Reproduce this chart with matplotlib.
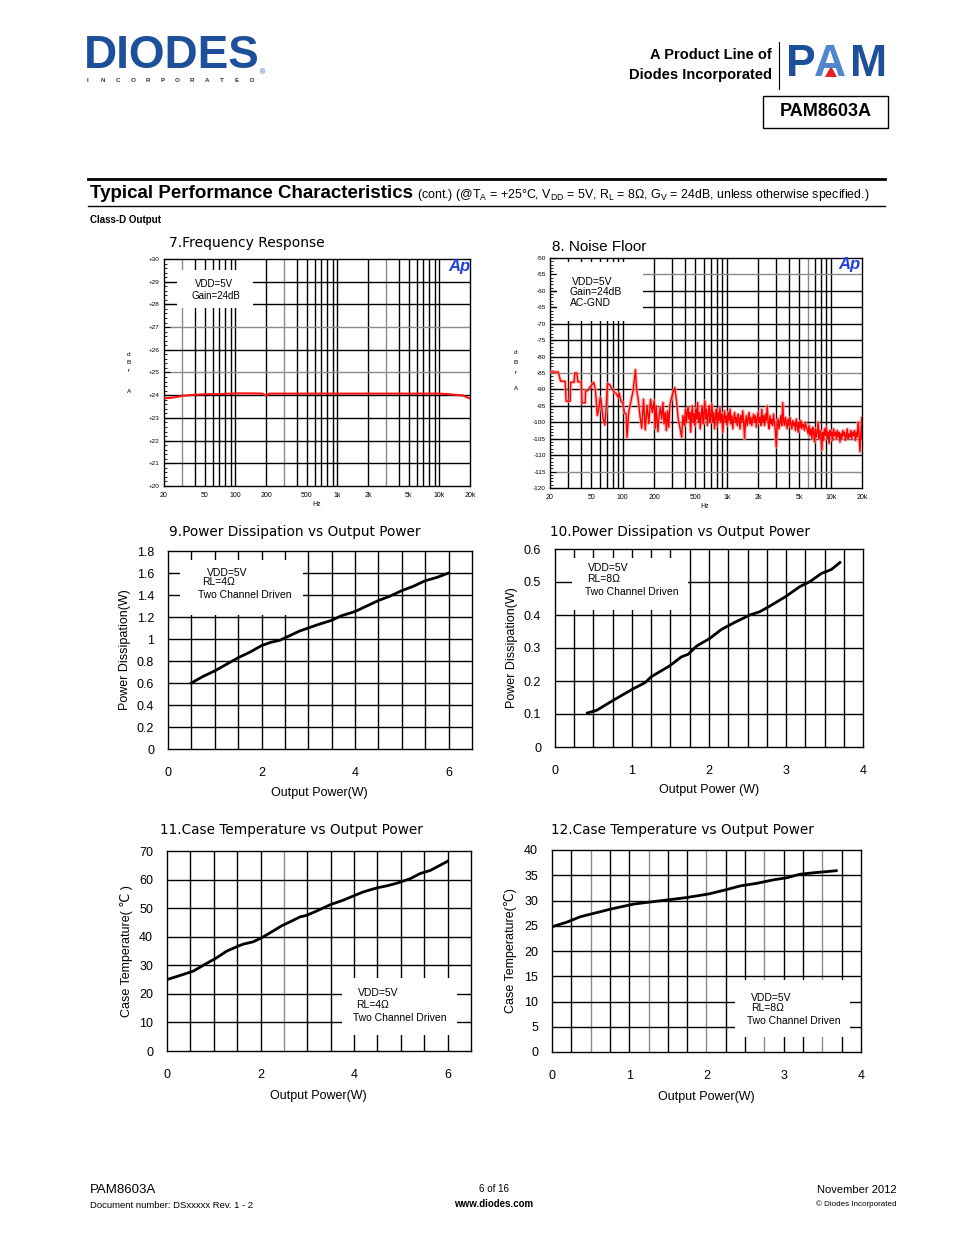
import matplotlib
matplotlib.use('Agg')
import matplotlib.pyplot as plt
import numpy as np
from matplotlib.patches import Rectangle, Polygon
from matplotlib.ticker import MultipleLocator, NullLocator

plt.rcParams['font.family'] = ['Liberation Sans', 'DejaVu Sans']

# ---------------- data ----------------
# 7. Frequency response
fr_hz = [20, 25, 30, 40, 50, 70, 90, 100, 150, 185, 200, 215, 300, 500, 1000,
         2000, 5000, 10000, 12000, 14000, 17000, 20000]
fr_db = [23.86, 23.9, 23.97, 24.02, 24.04, 24.05, 24.07, 24.08, 24.08, 24.07, 23.98, 24.07,
         24.07, 24.07, 24.07, 24.07, 24.07, 24.07, 24.05, 24.02, 23.99, 23.85]
fr_tick_hz = [20, 50, 100, 200, 500, 1000, 2000, 5000, 10000, 20000]
fr_tick_lbl = ['20', '50', '100', '200', '500', '1k', '2k', '5k', '10k', '20k']

# 8. Noise floor
noise_hz = [20.3, 24.0, 25.3, 28.0, 28.6, 31.3, 31.6, 34.1, 34.6, 36.3, 37.1, 40.0, 40.6, 43.6,
            44.0, 46.1, 47.9, 50.9, 52.6, 54.6, 57.0, 58.8, 61.0, 62.2, 64.8, 67.3, 68.9, 71.4,
            75.2, 79.6, 84.0, 87.2, 90.6, 92.6, 96.3, 99.9, 103.9, 107.8, 110.1, 114.3, 119.6,
            125.9, 132.6, 135.6, 140.9, 146.5, 152.3, 158.5, 164.8, 171.4, 178.2, 185.3, 192.7,
            200.4, 206, 210, 218, 224, 230, 237, 244, 250, 257, 263, 270, 277, 284, 292,
            305, 318, 330, 342, 355, 369, 380, 392, 402, 410, 418, 426, 434, 442, 450, 459,
            468, 477, 486, 495, 505, 515, 525, 535, 546, 557, 568, 580, 592, 604, 616, 628,
            640, 653, 666, 679, 692, 706, 720, 735, 750, 765, 780, 796, 812, 828, 845, 862,
            880, 898, 916, 935, 954, 973, 993, 1013, 1034, 1055, 1076, 1098, 1120, 1143,
            1166, 1190, 1214, 1239, 1264, 1290, 1316, 1343, 1370, 1398, 1426, 1455, 1484,
            1514, 1545, 1576, 1608, 1641, 1674, 1708, 1743, 1778, 1814, 1851, 1889, 1927,
            1966, 2006, 2047, 2088, 2131, 2174, 2218, 2263, 2309, 2356, 2404, 2453, 2503,
            2554, 2606, 2659, 2713, 2768, 2824, 2882, 2940, 3000, 3061, 3123, 3187, 3252,
            3318, 3385, 3454, 3524, 3596, 3669, 3744, 3820, 3898, 3977, 4058, 4140, 4225,
            4311, 4398, 4488, 4579, 4672, 4767, 4864, 4963, 5064, 5167, 5272, 5379, 5489,
            5600, 5714, 5830, 5949, 6070, 6193, 6319, 6448, 6579, 6713, 6849, 6989, 7131,
            7276, 7424, 7575, 7729, 7886, 8047, 8210, 8377, 8548, 8722, 8899, 9080, 9265,
            9453, 9646, 9842, 10042, 10246, 10455, 10668, 10885, 11106, 11332, 11562, 11798,
            12038, 12282, 12532, 12787, 13047, 13312, 13583, 13859, 14141, 14429, 14722,
            15022, 15327, 15639, 15957, 16281, 16612, 16950, 17295, 17647, 18006, 18372,
            18746, 19127, 19516, 19913, 20000]
noise_db = [-84.7, -84.7, -87.5, -87.5, -93.6, -93.6, -87.8, -87.8, -85.0, -85.0, -87.7, -87.7,
            -94.1, -94.1, -90.4, -90.4, -89.5, -88.5, -87.8, -90.0, -97.9, -96.0, -92.4, -93.9,
            -98.9, -100.8, -97.0, -88.2, -88.6, -90.0, -91.0, -91.4, -92.4, -91.1, -93.7,
            -93.9, -97.1, -97.4, -104.6, -96.9, -93.9, -90.4, -84.0, -89.5, -93.0, -97.9,
            -101.8, -93.0, -102.3, -94.9, -100.3, -93.0, -97.0, -93.5, -101.8, -95.0, -102.8,
            -98.0, -95.5, -99.0, -94.0, -100.5, -97.0, -102.5, -96.5, -101.5, -95.0, -93.0,
            -91.0, -89.4, -94.0, -99.0, -101.5, -104.6, -98.0, -101.0, -96.0, -100.0, -97.0,
            -95.5, -99.0, -97.0, -103.0, -98.0, -95.0, -100.0, -97.5, -101.0, -96.0, -99.0,
            -94.0, -100.0, -97.0, -102.0, -98.0, -95.0, -100.5, -97.0, -93.5, -99.0, -96.0,
            -101.0, -97.5, -95.0, -100.0, -98.0, -94.5, -100.0, -97.0, -102.0, -98.5, -96.0,
            -101.0, -97.0, -99.5, -95.5, -100.0, -97.5, -103.0, -99.0, -96.5, -100.0, -98.0,
            -101.0, -97.0, -99.5, -96.0, -100.5, -98.0, -102.0, -99.0, -97.0, -100.0, -98.5,
            -101.0, -97.5, -99.0, -102.0, -98.0, -100.0, -96.5, -99.5, -105.0, -100.0, -98.0,
            -101.0, -99.0, -97.0, -100.5, -98.5, -101.0, -99.0, -97.5, -100.0, -98.0, -101.5,
            -99.0, -97.0, -100.0, -98.5, -101.0, -96.0, -100.0, -98.0, -101.0, -97.5, -99.5,
            -95.0, -100.0, -102.0, -98.0, -100.5, -99.0, -101.0, -97.5, -100.0, -103.0,
            -107.5, -101.0, -99.0, -102.0, -100.0, -98.0, -101.0, -94.0, -99.5, -101.0,
            -98.5, -100.0, -102.0, -99.0, -101.0, -98.5, -100.5, -102.0, -99.5, -101.0,
            -100.0, -102.5, -99.0, -101.0, -103.0, -100.0, -101.5, -99.5, -102.0, -100.5,
            -101.0, -102.5, -100.0, -101.5, -102.0, -103.5, -101.0, -104.0, -102.0, -105.0,
            -101.5, -103.0, -106.0, -102.0, -104.5, -103.0, -100.0, -105.0, -102.5, -104.0,
            -108.5, -103.0, -105.5, -102.0, -104.0, -101.5, -105.0, -103.0, -106.5, -102.5,
            -104.0, -103.0, -105.5, -102.0, -104.0, -103.0, -105.0, -102.5, -104.5, -103.0,
            -106.0, -103.5, -105.0, -102.5, -104.0, -103.0, -105.5, -104.0, -102.0, -105.0,
            -103.5, -104.5, -102.5, -105.0, -103.0, -104.0, -102.5, -105.5, -103.0, -104.5,
            -100.0, -104.0, -109.0, -103.0, -98.5, -105.0]

# 9. Power dissipation, RL=4 ohm
pd4_w = [0.5, 0.75, 1.0, 1.25, 1.5, 1.75, 2.0, 2.2, 2.4, 2.6, 2.8, 3.0, 3.2, 3.5, 3.7,
         4.0, 4.25, 4.5, 4.75, 5.0, 5.25, 5.5, 5.75, 6.0]
pd4_pd = [0.60, 0.66, 0.71, 0.77, 0.83, 0.88, 0.94, 0.97, 0.99, 1.03, 1.07, 1.10, 1.13,
          1.17, 1.21, 1.25, 1.30, 1.35, 1.39, 1.44, 1.48, 1.53, 1.56, 1.60]

# 10. Power dissipation, RL=8 ohm
pd8_w = [0.42, 0.54, 0.76, 1.02, 1.17, 1.25, 1.49, 1.64, 1.73, 1.84, 2.01, 2.16, 2.32,
         2.53, 2.66, 2.79, 2.99, 3.18, 3.31, 3.46, 3.59, 3.70]
pd8_pd = [0.103, 0.111, 0.142, 0.177, 0.195, 0.213, 0.246, 0.273, 0.281, 0.306, 0.329,
          0.356, 0.376, 0.400, 0.410, 0.427, 0.455, 0.486, 0.501, 0.526, 0.538, 0.559]

# 11. Case temperature, RL=4 ohm
ct4_w = [0.0, 0.31, 0.56, 0.84, 1.06, 1.27, 1.52, 1.63, 1.84, 2.02, 2.27, 2.45, 2.63, 2.84,
         2.99, 3.2, 3.49, 3.77, 3.99, 4.2, 4.49, 4.7, 4.91, 5.2, 5.41, 5.63, 6.0]
ct4_t = [25.0, 26.6, 27.95, 30.6, 32.6, 34.9, 36.7, 37.4, 38.2, 39.6, 42.0, 43.8, 45.2,
         46.9, 47.5, 49.0, 51.2, 52.8, 54.3, 55.7, 57.1, 57.8, 58.7, 60.3, 62.1, 63.2, 66.4]

# 12. Case temperature, RL=8 ohm
ct8_w = [0.0, 0.19, 0.37, 0.76, 1.06, 1.27, 1.49, 1.75, 2.03, 2.27, 2.44, 2.65, 2.87, 3.04,
         3.21, 3.39, 3.54, 3.68]
ct8_t = [24.8, 25.7, 26.8, 28.3, 29.3, 29.7, 30.1, 30.6, 31.3, 32.2, 32.9, 33.4, 34.1,
         34.5, 35.2, 35.5, 35.7, 35.9]

# ---------------- figure ----------------
W, H = 954, 1235
fig = plt.figure(figsize=(9.54, 12.35), dpi=100)
fig.patch.set_facecolor('white')

bg = fig.add_axes([0, 0, 1, 1])
bg.set_xlim(0, W)
bg.set_ylim(H, 0)
bg.axis('off')


def add_ax(l, t, r, b):
    return fig.add_axes([l / W, 1 - b / H, (r - l) / W, (b - t) / H])


def ftext(x, y, s, **kw):
    kw.setdefault('va', 'center')
    return fig.text(x / W, 1 - y / H, s, **kw)


BLUE = '#1d4f9b'
TITLE_FONT = ['DejaVu Sans']

# ---- header ----
ftext(84, 56, 'DIODES', fontsize=33, fontweight='bold', color=BLUE, ha='left')
ftext(260, 73, '®', fontsize=5, color=BLUE, ha='left')
for i, ch in enumerate('INCORPORATED'):
    ftext(88 + i * 14.9, 81, ch, fontsize=4.5, fontweight='bold', color='#333333', ha='center')

ftext(772, 55, 'A Product Line of', fontsize=10.5, fontweight='bold', ha='right')
ftext(772, 75, 'Diodes Incorporated', fontsize=10.5, fontweight='bold', ha='right')
bg.plot([779, 779], [42, 89], color='black', lw=0.8)
ftext(786, 64, 'P', fontsize=32, fontweight='bold', color=BLUE, ha='left')
ftext(814, 64, 'A', fontsize=32, fontweight='bold', color='#4f86cf', ha='left')
ftext(850, 64, 'M', fontsize=32, fontweight='bold', color=BLUE, ha='left')
bg.add_patch(Polygon([[825, 77], [837, 77], [831, 66]], closed=True, fc='#e4202a', ec='none'))
bg.add_patch(Rectangle((763, 96), 125, 32, fc='none', ec='black', lw=1.0))
ftext(826, 112, 'PAM8603A', fontsize=13, fontweight='bold', ha='center')

bg.plot([88, 885], [179, 179], color='black', lw=2.0)
ftext(90, 193, 'Typical Performance Characteristics', fontsize=13.5, fontweight='bold', ha='left')
ftext(417, 195, r'(cont.) (@T$_\mathregular{A}$ = +25°C, V$_\mathregular{DD}$ = 5V, R$_\mathregular{L}$ = 8Ω, '
      r'G$_\mathregular{V}$ = 24dB, unless otherwise specified.)', fontsize=8.9, ha='left')
bg.plot([88, 885], [206, 206], color='black', lw=1.0)
ftext(90, 220, 'Class-D Output', fontsize=7, fontweight='bold', ha='left')

# ---- footer ----
ftext(90, 1190, 'PAM8603A', fontsize=9.5, ha='left')
ftext(90, 1206, 'Document number: DSxxxxx Rev. 1 - 2', fontsize=6.8, ha='left')
ftext(494, 1189, '6 of 16', fontsize=7, ha='center')
ftext(494, 1204, 'www.diodes.com', fontsize=7, fontweight='bold', ha='center')
ftext(897, 1190, 'November 2012', fontsize=8, ha='right')
ftext(897, 1204, '© Diodes Incorporated', fontsize=5.8, ha='right')

# ---- AP log charts ----
log_grid = [30, 40, 50, 60, 70, 80, 90, 100, 200, 300, 400, 500, 600, 700, 800, 900,
            1000, 2000, 3000, 4000, 5000, 6000, 7000, 8000, 9000, 10000]


def ap_chart(box, ylim, ystep, ylabels, gray_x, gray_y):
    ax = add_ax(*box)
    ax.set_xscale('log')
    ax.set_xlim(20, 20000)
    ax.set_ylim(*ylim)
    for f in log_grid:
        ax.axvline(f, color='#8a8a8a' if f in gray_x else 'black', lw=1.0, zorder=1)
    for v in np.arange(ylim[0] + ystep, ylim[1], ystep):
        ax.axhline(v, color='#8a8a8a' if any(np.isclose(v, g) for g in gray_y) else 'black',
                   lw=1.0, zorder=1)
    ax.set_xticks(fr_tick_hz)
    ax.set_xticklabels(fr_tick_lbl, fontsize=5)
    ax.xaxis.set_minor_locator(NullLocator())
    ax.tick_params(axis='x', length=0, pad=4)
    yt = np.arange(ylim[0], ylim[1] + ystep / 2, ystep)
    ax.set_yticks(yt)
    ax.set_yticklabels(ylabels, fontsize=4.6)
    ax.tick_params(axis='y', which='major', direction='in', length=4, width=0.8, pad=3)
    ax.tick_params(axis='y', which='minor', direction='in', length=2.5, width=0.6)
    for s in ax.spines.values():
        s.set_linewidth(1.0)
    return ax


ax7 = ap_chart((164, 259, 470, 486), (20, 30), 1, ['+%d' % v for v in range(20, 31)],
               gray_x=[30, 300, 3000], gray_y=[25, 27])
ax7.yaxis.set_minor_locator(MultipleLocator(0.2))
ax7.plot(fr_hz, fr_db, color='#ff1010', lw=1.5, zorder=3)
ax7.add_patch(Rectangle((0.042, 0.784), 0.249, 0.168, transform=ax7.transAxes,
                        fc='white', ec='none', zorder=2))
ftext(214, 284, 'VDD=5V', fontsize=7, ha='center')
ftext(216, 296, 'Gain=24dB', fontsize=7, ha='center')
ftext(459, 267, 'Ap', fontsize=12, fontweight='bold', style='italic', color='#2040e0', ha='center')
ftext(169, 243, '7.Frequency Response', fontsize=10, ha='left', family=TITLE_FONT)
ftext(317, 505, 'Hz', fontsize=5, ha='center')
for yy, ch in zip([355, 363, 371, 391], ['d', 'B', 'r', 'A']):
    ftext(129, yy, ch, fontsize=4.6, ha='center')

ax8 = ap_chart((550, 258, 862, 488), (-120, -50), 5, ['%d' % v for v in range(-120, -45, 5)],
               gray_x=[6000], gray_y=[-55, -85, -115])
ax8.yaxis.set_minor_locator(MultipleLocator(1))
ax8.plot(noise_hz, noise_db, color='#ffa0a0', lw=2.6, alpha=0.7, zorder=3)
ax8.plot(noise_hz, noise_db, color='#ff0000', lw=1.0, zorder=3)
ax8.add_patch(Rectangle((0.022, 0.726), 0.276, 0.257, transform=ax8.transAxes,
                        fc='white', ec='none', zorder=2))
ftext(572, 282, 'VDD=5V', fontsize=7.5, ha='left')
ftext(570, 292, 'Gain=24dB', fontsize=7.5, ha='left')
ftext(570, 303, 'AC-GND', fontsize=7.5, ha='left')
ftext(849, 265, 'Ap', fontsize=12, fontweight='bold', style='italic', color='#2040e0', ha='center')
ftext(552, 247, '8. Noise Floor', fontsize=11, ha='left')
ftext(705, 507, 'Hz', fontsize=5, ha='center')
for yy, ch in zip([353, 363, 372, 388], ['d', 'B', 'r', 'A']):
    ftext(516, yy, ch, fontsize=4.6, ha='center')


# ---- linear charts ----
def lin_chart(box, xmax, xstep, ymax, ystep, xticks, yticks, ylbls, xd, yd, gray_x=()):
    ax = add_ax(*box)
    ax.set_xlim(0, xmax)
    ax.set_ylim(0, ymax)
    for v in np.arange(xstep, xmax, xstep):
        ax.axvline(v, color='#8a8a8a' if any(np.isclose(v, g) for g in gray_x) else 'black',
                   lw=1.0, zorder=1)
    for v in np.arange(ystep, ymax, ystep):
        ax.axhline(v, color='black', lw=1.0, zorder=1)
    ax.plot(xd, yd, color='black', lw=2.0, zorder=3, solid_joinstyle='round')
    ax.set_xticks(xticks)
    ax.set_xticklabels([('%g' % v) for v in xticks], fontsize=9)
    ax.set_yticks(yticks)
    ax.set_yticklabels(ylbls, fontsize=9)
    ax.tick_params(axis='x', length=0, pad=13)
    ax.tick_params(axis='y', length=0, pad=10)
    for s in ax.spines.values():
        s.set_linewidth(1.0)
    return ax


def legend_box(ax, x0, y0, x1, y1):
    ax.add_patch(Rectangle((x0, y0), x1 - x0, y1 - y0, transform=ax.transAxes,
                           fc='white', ec='none', zorder=2))


# 9
ax9 = lin_chart((168, 551, 472, 749), 6.5, 0.5, 1.8, 0.2, [0, 2, 4, 6],
                np.arange(0, 1.81, 0.2), ['0', '0.2', '0.4', '0.6', '0.8', '1', '1.2', '1.4', '1.6', '1.8'],
                pd4_w, pd4_pd)
legend_box(ax9, 0.04, 0.677, 0.444, 0.955)
ftext(227, 573, 'VDD=5V', fontsize=7.5, ha='center')
ftext(202, 582, 'RL=4Ω', fontsize=7.5, ha='left')
ftext(198, 595, 'Two Channel Driven', fontsize=7.5, ha='left')
ftext(169, 532, '9.Power Dissipation vs Output Power', fontsize=9.8, ha='left', family=TITLE_FONT)
ftext(319, 793, 'Output Power(W)', fontsize=9, ha='center')
ftext(125, 650, 'Power Dissipation(W)', fontsize=9, ha='center', rotation=90)

# 10
ax10 = lin_chart((555, 549, 863, 747), 4, 0.25, 0.6, 0.1, [0, 1, 2, 3, 4],
                 np.arange(0, 0.61, 0.1), ['0', '0.1', '0.2', '0.3', '0.4', '0.5', '0.6'],
                 pd8_w, pd8_pd)
legend_box(ax10, 0.055, 0.692, 0.432, 0.955)
ftext(608, 568, 'VDD=5V', fontsize=7.5, ha='center')
ftext(587, 579, 'RL=8Ω', fontsize=7.5, ha='left')
ftext(585, 592, 'Two Channel Driven', fontsize=7.5, ha='left')
ftext(550, 532, '10.Power Dissipation vs Output Power', fontsize=9.8, ha='left', family=TITLE_FONT)
ftext(709, 790, 'Output Power (W)', fontsize=9, ha='center')
ftext(512, 648, 'Power Dissipation(W)', fontsize=9, ha='center', rotation=90)

# 11
ax11 = lin_chart((167, 851, 471, 1051), 6.5, 0.5, 70, 10, [0, 2, 4, 6],
                 np.arange(0, 71, 10), ['%d' % v for v in range(0, 71, 10)],
                 ct4_w, ct4_t, gray_x=[2.5])
legend_box(ax11, 0.576, 0.08, 0.954, 0.365)
ftext(378, 993, 'VDD=5V', fontsize=7.5, ha='center')
ftext(356, 1005, 'RL=4Ω', fontsize=7.5, ha='left')
ftext(353, 1018, 'Two Channel Driven', fontsize=7.5, ha='left')
ftext(160, 830, '11.Case Temperature vs Output Power', fontsize=9.8, ha='left', family=TITLE_FONT)
ftext(318, 1096, 'Output Power(W)', fontsize=9, ha='center')
ftext(127, 951, 'Case Temperature( ℃ )', fontsize=9, ha='center', rotation=90,
      family=['Liberation Sans', 'DejaVu Sans'])

# 12
ax12 = lin_chart((552, 850, 861, 1052), 4, 0.25, 40, 5, [0, 1, 2, 3, 4],
                 np.arange(0, 41, 5), ['%d' % v for v in range(0, 41, 5)],
                 ct8_w, ct8_t, gray_x=[0.5, 1.25, 2.0, 2.75, 3.5])
legend_box(ax12, 0.592, 0.074, 0.964, 0.356)
ftext(771, 998, 'VDD=5V', fontsize=7.5, ha='center')
ftext(751, 1008, 'RL=8Ω', fontsize=7.5, ha='left')
ftext(747, 1021, 'Two Channel Driven', fontsize=7.5, ha='left')
ftext(551, 830, '12.Case Temperature vs Output Power', fontsize=9.8, ha='left', family=TITLE_FONT)
ftext(706, 1097, 'Output Power(W)', fontsize=9, ha='center')
ftext(511, 951, 'Case Temperature(℃)', fontsize=9, ha='center', rotation=90,
      family=['Liberation Sans', 'DejaVu Sans'])

fig.savefig('out.png', dpi=100, facecolor='white')
